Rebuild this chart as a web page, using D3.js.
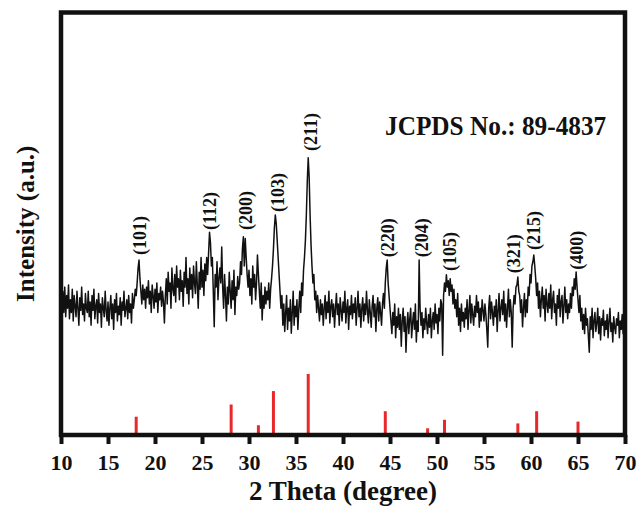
<!DOCTYPE html>
<html>
<head>
<meta charset="utf-8">
<script src="https://cdn.jsdelivr.net/npm/d3@7"></script>
<style>
  html, body { margin: 0; padding: 0; background: #fff; }
  svg { display: block; }
  text { font-family: "Liberation Serif", "Times New Roman", serif; font-weight: bold; fill: #111; }
</style>
</head>
<body>
<svg id="chart" width="639" height="506"></svg>
<script>
// XRD scan: 2-theta from 10 to 70 degrees, 0.1 degree step
const scanStart = 10;
const scanStep = 0.1;
const intensity = [
  410, 265, 340, 290, 350, 280, 330, 300, 355, 275,
  320, 290, 345, 270, 330, 305, 280, 340, 300, 260,
  325, 295, 350, 285, 310, 270, 335, 300, 290, 340,
  280, 315, 260, 330, 295, 345, 275, 305, 320, 265,
  335, 290, 310, 255, 325, 300, 280, 340, 295, 270,
  315, 260, 300, 330, 275, 310, 250, 320, 290, 335,
  270, 305, 285, 325, 260, 315, 295, 340, 280, 300,
  320, 275, 330, 290, 310, 265, 335, 300, 320, 345,
  330, 360, 395, 414, 370, 340, 310, 355, 320, 345,
  300, 350, 325, 365, 310, 340, 290, 355, 330, 300,
  345, 315, 360, 290, 335, 320, 350, 305, 340, 315,
  265, 330, 370, 310, 385, 340, 360, 300, 395, 345,
  330, 380, 315, 400, 350, 370, 320, 390, 340, 365,
  305, 385, 350, 420, 335, 370, 310, 395, 345, 380,
  325, 400, 360, 335, 410, 355, 300, 385, 345, 420,
  350, 390, 330, 405, 365, 420, 380, 430, 480, 455,
  400, 420, 340, 256, 380, 350, 410, 320, 370, 395,
  360, 445, 350, 300, 380, 330, 270, 350, 310, 385,
  340, 300, 365, 320, 390, 285, 350, 330, 375, 345,
  360, 410, 380, 440, 469, 400, 465, 420, 380, 350,
  390, 330, 370, 310, 400, 350, 380, 320, 360, 426,
  380, 340, 300, 360, 272, 330, 300, 350, 310, 340,
  320, 360, 300, 345, 370, 400, 440, 490, 521, 500,
  460, 420, 380, 340, 300, 330, 260, 310, 245, 290,
  330, 250, 300, 270, 320, 241, 290, 340, 260, 305,
  280, 320, 250, 300, 340, 290, 360, 330, 390, 420,
  460, 520, 600, 656, 610, 520, 450, 400, 360, 380,
  320, 340, 290, 330, 300, 270, 320, 285, 310, 260,
  300, 330, 275, 315, 290, 340, 265, 305, 320, 280,
  310, 255, 300, 335, 285, 310, 260, 325, 295, 270,
  315, 290, 340, 265, 300, 320, 250, 305, 285, 330,
  275, 310, 290, 325, 260, 300, 340, 280, 310, 255,
  300, 325, 270, 310, 285, 340, 295, 265, 320, 290,
  255, 305, 330, 280, 310, 245, 300, 325, 270, 315,
  290, 260, 310, 335, 300, 360, 395, 414, 360, 330,
  300, 270, 240, 290, 260, 310, 230, 280, 255, 300,
  250, 285, 210, 270, 300, 245, 280, 196, 260, 290,
  240, 275, 300, 230, 265, 290, 250, 310, 220, 270,
  245, 414, 300, 260, 290, 230, 275, 250, 300, 265,
  240, 285, 255, 300, 230, 270, 290, 250, 310, 265,
  285, 240, 300, 270, 320, 310, 189, 330, 360, 340,
  379, 350, 365, 330, 370, 340, 355, 310, 345, 300,
  320, 280, 335, 260, 300, 245, 310, 270, 290, 255,
  300, 275, 320, 250, 295, 330, 265, 310, 285, 260,
  305, 280, 330, 290, 315, 255, 300, 270, 320, 295,
  270, 310, 285, 250, 208, 300, 330, 275, 315, 290,
  260, 305, 280, 320, 245, 295, 335, 270, 300, 320,
  285, 340, 270, 310, 255, 300, 345, 280, 320, 290,
  208, 300, 330, 310, 350, 355, 374, 340, 330, 290,
  320, 256, 300, 335, 280, 320, 290, 350, 330, 380,
  360, 400, 410, 426, 400, 370, 330, 360, 300, 340,
  280, 320, 350, 300, 330, 270, 345, 310, 290, 335,
  300, 355, 275, 320, 340, 290, 310, 260, 330, 300,
  345, 280, 315, 330, 265, 305, 350, 290, 320, 275,
  310, 290, 335, 300, 350, 330, 370, 345, 386, 350,
  320, 290, 330, 270, 300, 250, 285, 240, 300, 260,
  275, 235, 196, 280, 250, 300, 230, 270, 290, 245,
  265, 300, 240, 280, 225, 275, 260, 295, 235, 270,
  250, 285, 230, 270, 300, 245, 265, 220, 280, 255,
  240, 275, 260, 290, 230, 270, 250, 285, 240, 265,
  340
];

// Standard pattern, JCPDS No. 89-4837 (relative intensity, %)
const refTheta = [18.0, 28.1, 31.0, 32.6, 36.3, 44.5, 49.0, 50.8, 58.6, 60.6, 65.0];
const refIntensity = [30, 50, 16, 72, 100, 39, 11, 25, 19, 39, 22];

// Miller index labels placed above the measured peaks
const hkl = ["(101)", "(112)", "(200)", "(103)", "(211)", "(220)", "(204)", "(105)", "(321)", "(215)", "(400)"];
const hklTheta = [18.4, 25.85, 29.6, 33.0, 36.6, 44.8, 48.4, 51.4, 58.2, 60.3, 64.9];
const hklIntensity = [426, 485, 485, 528, 672, 421, 421, 388, 383, 438, 391];

const xTicks = [10, 15, 20, 25, 30, 35, 40, 45, 50, 55, 60, 65, 70];

const svg = d3.select("#chart");
const plotLeft = 61, plotRight = 625, plotTop = 12.5, plotBottom = 435;

const x = d3.scaleLinear().domain([10, 70]).range([plotLeft, plotRight]);
const y = d3.scaleLinear().domain([0, 1000]).range([plotBottom, plotTop]);
const yRef = d3.scaleLinear().domain([0, 100]).range([plotBottom, plotBottom - 61]);

const scan = intensity.map((v, i) => ({ t: scanStart + i * scanStep, v }));

// measured pattern
svg.append("path")
  .datum(scan)
  .attr("fill", "none")
  .attr("stroke", "#111")
  .attr("stroke-width", 1.5)
  .attr("stroke-linejoin", "round")
  .attr("d", d3.line().x(d => x(d.t)).y(d => y(d.v)));

// reference sticks
svg.append("g")
  .selectAll("line")
  .data(refTheta.map((t, i) => ({ t, v: refIntensity[i] })))
  .join("line")
  .attr("x1", d => x(d.t)).attr("x2", d => x(d.t))
  .attr("y1", yRef(0)).attr("y2", d => yRef(d.v))
  .attr("stroke", "#e8282b")
  .attr("stroke-width", 3);

// peak labels
svg.append("g")
  .selectAll("text")
  .data(hkl.map((s, i) => ({ s, t: hklTheta[i], v: hklIntensity[i] })))
  .join("text")
  .attr("transform", d => `translate(${x(d.t)},${y(d.v)}) rotate(-90)`)
  .attr("dy", "0.35em")
  .attr("font-size", 18)
  .text(d => d.s);

// x axis
const xAxis = d3.axisBottom(x).tickValues(xTicks).tickSize(9).tickPadding(10);
const gx = svg.append("g").attr("transform", `translate(0,${plotBottom})`).call(xAxis);
gx.select(".domain").remove();
gx.selectAll(".tick line").attr("stroke", "#111").attr("stroke-width", 4);
gx.selectAll(".tick text")
  .attr("font-size", 22)
  .attr("font-family", "Liberation Serif, Times New Roman, serif")
  .attr("font-weight", "bold")
  .attr("fill", "#111");

// frame
svg.append("rect")
  .attr("x", plotLeft).attr("y", plotTop)
  .attr("width", plotRight - plotLeft).attr("height", plotBottom - plotTop)
  .attr("fill", "none")
  .attr("stroke", "#111")
  .attr("stroke-width", 4.5);

// titles
svg.append("text")
  .attr("x", (plotLeft + plotRight) / 2).attr("y", 500)
  .attr("text-anchor", "middle")
  .attr("font-size", 27)
  .text("2 Theta (degree)");

svg.append("text")
  .attr("transform", `translate(34,${(plotTop + plotBottom) / 2}) rotate(-90)`)
  .attr("text-anchor", "middle")
  .attr("font-size", 25)
  .text("Intensity (a.u.)");

svg.append("text")
  .attr("transform", "translate(385,134.5) scale(1,1.1)")
  .attr("font-size", 25.3)
  .text("JCPDS No.: 89-4837");
</script>
</body>
</html>
